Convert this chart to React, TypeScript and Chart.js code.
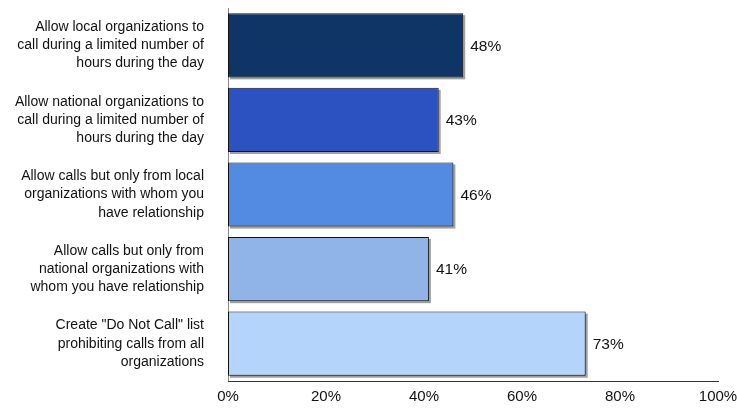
import React, { useEffect, useRef } from "react";
import { Chart, registerables } from "chart.js";

Chart.register(...registerables);

const categories: string[][] = [
  ["Allow local organizations to", "call during a limited number of", "hours during the day"],
  ["Allow national organizations to", "call during a limited number of", "hours during the day"],
  ["Allow calls but only from local", "organizations with whom you", "have relationship"],
  ["Allow calls but only from", "national organizations with", "whom you have relationship"],
  ["Create \"Do Not Call\" list", "prohibiting calls from all", "organizations"],
];
const values: number[] = [48, 43, 46, 41, 73];
const barColors: string[] = ["#0f3566", "#2c51c0", "#538ae2", "#90b4e8", "#b4d4fc"];
const xMin = 0;
const xMax = 100;
const xStep = 20;

const FONT = "'Liberation Sans', Arial, sans-serif";

const shadowPlugin = {
  id: "barShadow",
  beforeDatasetsDraw(chart: any) {
    const ctx = chart.ctx;
    const meta = chart.getDatasetMeta(0);
    ctx.save();
    ctx.fillStyle = "#a0a0a0";
    meta.data.forEach((el: any) => {
      const left = Math.min(el.base, el.x);
      const w = Math.abs(el.x - el.base);
      const h = el.height;
      ctx.fillRect(left + 2, el.y - h / 2 + 2, w, h);
    });
    ctx.restore();
  },
};

const labelPlugin = {
  id: "valueLabels",
  afterDatasetsDraw(chart: any) {
    const ctx = chart.ctx;
    const meta = chart.getDatasetMeta(0);
    ctx.save();
    ctx.font = `15.5px ${FONT}`;
    ctx.fillStyle = "#111";
    ctx.textAlign = "left";
    ctx.textBaseline = "middle";
    meta.data.forEach((el: any, i: number) => {
      ctx.fillText(values[i] + "%", el.x + 7, el.y + 1);
    });
    ctx.restore();
  },
};

export default function App() {
  const ref = useRef<HTMLCanvasElement | null>(null);

  useEffect(() => {
    if (!ref.current) return;
    const chart = new Chart(ref.current, {
      type: "bar",
      data: {
        labels: categories,
        datasets: [
          {
            data: values,
            backgroundColor: barColors,
            borderColor: "#111",
            borderWidth: 1,
            borderSkipped: false,
            categoryPercentage: 1,
            barPercentage: 0.86,
          },
        ],
      },
      options: {
        indexAxis: "y",
        animation: false,
        responsive: false,
        maintainAspectRatio: false,
        layout: { padding: { top: 8, right: 19, left: 0, bottom: 0 } },
        plugins: {
          legend: { display: false },
          tooltip: { enabled: false },
        },
        scales: {
          y: {
            type: "category",
            grid: { display: false, drawTicks: false },
            border: { display: true, color: "#888", width: 1 },
            ticks: {
              color: "#111",
              padding: 24,
              font: { family: FONT, size: 14, lineHeight: 1.3 },
            },
            afterFit(scale: any) {
              scale.width = 228;
              scale.paddingTop = 0;
              scale.paddingBottom = 0;
            },
          },
          x: {
            type: "linear",
            min: xMin,
            max: xMax,
            grid: { display: false, drawTicks: false },
            border: { display: true, color: "#333", width: 1 },
            ticks: {
              stepSize: xStep,
              color: "#111",
              padding: 7,
              maxRotation: 0,
              font: { family: FONT, size: 15 },
              callback: (v: any) => v + "%",
            },
            afterFit(scale: any) {
              scale.height = 27;
              scale.paddingLeft = 0;
              scale.paddingRight = 0;
            },
          },
        },
      },
      plugins: [shadowPlugin, labelPlugin],
    });
    return () => chart.destroy();
  }, []);

  return (
    <div style={{ position: "absolute", left: 0, top: 0, width: 737, height: 408, background: "#fff" }}>
      <canvas ref={ref} width={737} height={408} style={{ display: "block" }} />
    </div>
  );
}
